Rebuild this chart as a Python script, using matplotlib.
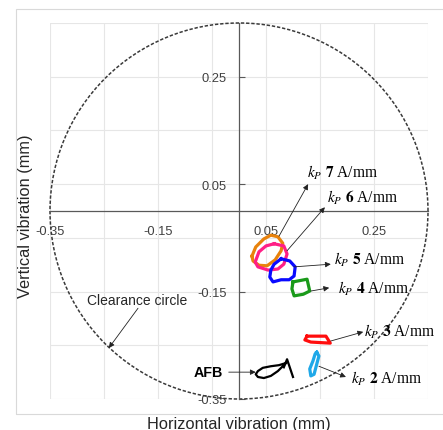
import numpy as np
import matplotlib
matplotlib.use("Agg")
import matplotlib.pyplot as plt
from matplotlib.patches import Circle, Rectangle

plt.rcParams['mathtext.fontset'] = 'stix'

# bearing clearance radius (mm)
clearance = 0.35

# shaft orbits (mm) for each proportional gain, plus the AFB reference
orbit_kp7_x = [0.024, 0.031, 0.046, 0.059, 0.072, 0.081, 0.078, 0.067, 0.052, 0.037, 0.026]
orbit_kp7_y = [-0.084, -0.067, -0.052, -0.045, -0.048, -0.060, -0.074, -0.091, -0.102, -0.101, -0.093]

orbit_kp6_x = [0.065, 0.083, 0.089, 0.083, 0.072, 0.054, 0.035, 0.030, 0.037, 0.050]
orbit_kp6_y = [-0.061, -0.065, -0.080, -0.099, -0.108, -0.110, -0.104, -0.095, -0.076, -0.065]

orbit_kp5_x = [0.078, 0.094, 0.104, 0.102, 0.093, 0.078, 0.063, 0.057, 0.059, 0.065]
orbit_kp5_y = [-0.089, -0.093, -0.104, -0.121, -0.128, -0.128, -0.132, -0.123, -0.110, -0.099]

orbit_kp4_x = [0.100, 0.126, 0.131, 0.119, 0.102, 0.098]
orbit_kp4_y = [-0.132, -0.127, -0.149, -0.155, -0.158, -0.145]

orbit_kp3_x = [0.126, 0.161, 0.169, 0.133, 0.122]
orbit_kp3_y = [-0.233, -0.233, -0.246, -0.244, -0.240]

orbit_kp2_x = [0.144, 0.148, 0.144, 0.139, 0.133, 0.131, 0.137, 0.141]
orbit_kp2_y = [-0.263, -0.270, -0.285, -0.304, -0.307, -0.294, -0.279, -0.266]

orbit_afb_x = [0.087, 0.074, 0.059, 0.044, 0.035, 0.031, 0.035, 0.046, 0.059, 0.072, 0.087]
orbit_afb_y = [-0.283, -0.287, -0.289, -0.292, -0.298, -0.304, -0.309, -0.311, -0.307, -0.298, -0.283]
afb_stem_x = [0.083, 0.089, 0.094, 0.100]
afb_stem_y = [-0.291, -0.276, -0.291, -0.309]

gains = [7, 6, 5, 4, 3, 2]
orbit_colors = ['#e8820c', '#ff1f86', '#0a0aff', '#1a9a1a', '#ff0d0d', '#1fa8e8']
label_pos = [(0.126, 0.073), (0.163, 0.026), (0.176, -0.089),
             (0.183, -0.143), (0.231, -0.223), (0.207, -0.311)]
arrow_tail = [(0.074, -0.047), (0.089, -0.074), (0.102, -0.104),
              (0.133, -0.149), (0.170, -0.242), (0.148, -0.289)]
arrow_head = [(0.128, 0.050), (0.159, 0.007), (0.170, -0.099),
              (0.167, -0.143), (0.230, -0.225), (0.198, -0.309)]

major_ticks = [-0.35, -0.15, 0.05, 0.25]
tick_labels = ['-0.35', '-0.15', '0.05', '0.25']
y_major_ticks = [0.25, 0.05, -0.15, -0.35]
y_tick_labels = ['0.25', '0.05', '-0.15', '-0.35']

fig = plt.figure(figsize=(4.43, 4.31), dpi=100)
ax = fig.add_axes([50 / 443, 31 / 431, 378 / 443, 376 / 431])

# light chart-area frame
fig.patches.append(Rectangle((16 / 443, 16 / 431), 1.0, 405 / 431, transform=fig.transFigure,
                             fill=False, edgecolor='#d9d9d9', lw=0.8, zorder=0))

ax.set_xlim(-0.35, 0.35)
ax.set_ylim(-0.35, 0.35)

# gridlines every 0.1 on odd multiples of 0.05
grid_pos = np.arange(-0.35, 0.351, 0.1)
for g in grid_pos:
    ax.axvline(g, color='#e6e6e6', lw=0.8, zorder=0)
    ax.axhline(g, color='#e6e6e6', lw=0.8, zorder=0)

for s in ['top', 'right']:
    ax.spines[s].set_visible(False)
ax.spines['left'].set_position(('data', 0))
ax.spines['bottom'].set_position(('data', 0))
ax.spines['left'].set_color('#595959')
ax.spines['bottom'].set_color('#595959')
ax.spines['left'].set_linewidth(0.9)
ax.spines['bottom'].set_linewidth(0.9)

ax.set_xticks(major_ticks)
ax.set_xticklabels(tick_labels)
ax.set_yticks(y_major_ticks)
ax.set_yticklabels(y_tick_labels)
ax.tick_params(axis='x', length=0, pad=10, labelsize=9.3, labelcolor='#404040')
ax.tick_params(axis='y', direction='in', length=4, width=0.8, color='#595959',
               pad=9, labelsize=9.3, labelcolor='#404040')
for lbl in ax.get_xticklabels() + ax.get_yticklabels():
    lbl.set_fontfamily('Liberation Sans')

# clearance circle
ax.add_patch(Circle((0, 0), clearance, fill=False, ls=(0, (2.2, 1.2)), lw=1.1,
                    edgecolor='#3a3a3a', clip_on=False, zorder=2))

orbits = [(orbit_kp7_x, orbit_kp7_y), (orbit_kp6_x, orbit_kp6_y), (orbit_kp5_x, orbit_kp5_y),
          (orbit_kp4_x, orbit_kp4_y), (orbit_kp3_x, orbit_kp3_y), (orbit_kp2_x, orbit_kp2_y)]
for (ox, oy), c in zip(orbits, orbit_colors):
    ax.plot(ox + ox[:1], oy + oy[:1], color=c, lw=2.3, solid_joinstyle='round', zorder=4)

ax.plot(orbit_afb_x, orbit_afb_y, color='black', lw=1.6, solid_joinstyle='round', zorder=4)
ax.plot(afb_stem_x, afb_stem_y, color='black', lw=1.6, solid_joinstyle='round', zorder=4)

arrow_props = dict(arrowstyle='-|>', lw=0.6, color='#222222', mutation_scale=8,
                   shrinkA=0, shrinkB=0)
for k, pos, tail, head in zip(gains, label_pos, arrow_tail, arrow_head):
    ax.annotate('', xy=head, xytext=tail, arrowprops=arrow_props, zorder=5)
    ax.text(pos[0], pos[1], r'$k_P$ $\mathbf{%d}$ A/mm' % k, fontsize=11.2,
            fontfamily='Liberation Serif', va='center', ha='left', zorder=6)

ax.text(-0.057, -0.300, 'AFB', fontsize=10.3, fontweight='bold', fontfamily='Liberation Sans',
        ha='center', va='center')
ax.annotate('', xy=(0.031, -0.300), xytext=(-0.019, -0.300), arrowprops=arrow_props)

ax.text(-0.189, -0.166, 'Clearance circle', fontsize=10, fontfamily='Liberation Sans',
        color='#262626', ha='center', va='center')
ax.annotate('', xy=(-0.241, -0.255), xytext=(-0.187, -0.181), arrowprops=arrow_props)

fig.text(26 / 443, 215 / 431, 'Vertical vibration (mm)', rotation=90, fontsize=11.8,
         fontfamily='Liberation Sans', color='#262626', ha='center', va='center')
fig.text(239 / 443, 6 / 431, 'Horizontal vibration (mm)', fontsize=11.8,
         fontfamily='Liberation Sans', color='#262626', ha='center', va='center')

fig.savefig('out.png', dpi=100)
